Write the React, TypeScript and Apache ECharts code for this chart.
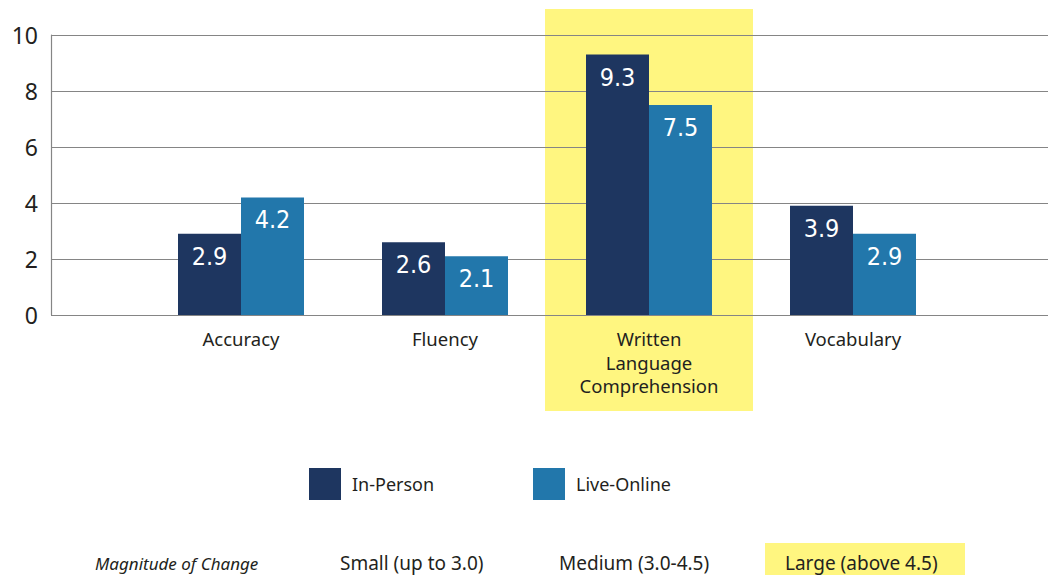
import React, { useEffect, useRef } from "react";
import * as echarts from "echarts";

const categories = ["Accuracy", "Fluency", "Written\nLanguage\nComprehension", "Vocabulary"];
const seriesNames = ["In-Person", "Live-Online"];
const inPerson = [2.9, 2.6, 9.3, 3.9];
const liveOnline = [4.2, 2.1, 7.5, 2.9];
const yMin = 0;
const yMax = 10;
const yInterval = 2;
const highlightIndex = 2;
const magnitudeTitle = "Magnitude of Change";
const magnitudeLabels = ["Small (up to 3.0)", "Medium (3.0-4.5)", "Large (above 4.5)"];

const DARK = "#1e3660";
const LIGHT = "#2277ab";
const YELLOW = "#fff680";
const GRIDC = "#858585";
const TEXT = "#231f20";
const FONT = "'Noto Sans', 'Open Sans', sans-serif";
const NARROW = "'Liberation Sans Narrow', 'DejaVu Sans Condensed', 'Roboto', sans-serif";

export default function App() {
  const ref = useRef<HTMLDivElement>(null);
  useEffect(() => {
    if (!ref.current) return;
    const chart = echarts.init(ref.current, undefined, { renderer: "svg" });
    const valueLabel = {
      show: true,
      position: "insideTop",
      distance: 10,
      color: "#ffffff",
      fontFamily: NARROW,
      fontSize: 25,
      formatter: (p: any) => Number(p.value).toFixed(1),
    };
    const legendCommon = {
      top: 468,
      padding: 0,
      icon: "rect",
      itemWidth: 32,
      itemHeight: 32,
      itemGap: 0,
      textStyle: { fontFamily: FONT, fontSize: 18, color: TEXT, padding: [0, 0, 0, 6] },
    };
    const option: any = {
      animation: false,
      grid: [
        { left: 51, right: 0, top: 35, bottom: 260 },
        { left: 139, width: 816, top: 35, bottom: 260 },
      ],
      xAxis: [
        { gridIndex: 0, type: "category", data: categories, show: false },
        {
          gridIndex: 1,
          type: "category",
          data: categories,
          axisLine: { show: false },
          axisTick: { show: false },
          axisLabel: {
            margin: 12,
            fontFamily: FONT,
            fontSize: 18.5,
            color: TEXT,
            lineHeight: 23.5,
            interval: 0,
          },
        },
      ],
      yAxis: [
        {
          gridIndex: 0,
          type: "value",
          min: yMin,
          max: yMax,
          interval: yInterval,
          axisLine: { show: true, lineStyle: { color: GRIDC, width: 1.2 } },
          axisTick: { show: false },
          splitLine: { show: true, lineStyle: { color: GRIDC, width: 1.2 } },
          axisLabel: { margin: 13, fontFamily: FONT, fontSize: 23, color: TEXT },
        },
        { gridIndex: 1, type: "value", min: yMin, max: yMax, interval: yInterval, show: false },
      ],
      legend: [
        { ...legendCommon, data: [seriesNames[0]], left: 309 },
        { ...legendCommon, data: [seriesNames[1]], left: 533 },
      ],
      series: [
        {
          name: seriesNames[0],
          type: "bar",
          xAxisIndex: 1,
          yAxisIndex: 1,
          data: inPerson,
          barWidth: 63,
          barGap: "0%",
          itemStyle: { color: DARK },
          label: valueLabel,
        },
        {
          name: seriesNames[1],
          type: "bar",
          xAxisIndex: 1,
          yAxisIndex: 1,
          data: liveOnline,
          barWidth: 63,
          barGap: "0%",
          itemStyle: { color: LIGHT },
          label: valueLabel,
        },
      ],
    };
    chart.setOption(option);
    const cx = chart.convertToPixel({ xAxisIndex: 1 } as any, categories[highlightIndex]) as number;
    const bottomY = 563;
    chart.setOption({
      graphic: [
        {
          type: "rect",
          z: -10,
          silent: true,
          shape: { x: cx - 104, y: 9, width: 208, height: 402 },
          style: { fill: YELLOW },
        },
        {
          type: "text",
          x: 95,
          y: bottomY,
          style: {
            text: magnitudeTitle,
            fontFamily: FONT,
            fontStyle: "italic",
            fontSize: 17,
            fill: TEXT,
            verticalAlign: "middle",
          },
        },
        {
          type: "text",
          x: 340,
          y: bottomY,
          style: { text: magnitudeLabels[0], fontFamily: FONT, fontSize: 19, fill: TEXT, verticalAlign: "middle" },
        },
        {
          type: "text",
          x: 559,
          y: bottomY,
          style: { text: magnitudeLabels[1], fontFamily: FONT, fontSize: 19, fill: TEXT, verticalAlign: "middle" },
        },
        {
          type: "rect",
          z: -10,
          shape: { x: 765, y: 543, width: 200, height: 32 },
          style: { fill: YELLOW },
        },
        {
          type: "text",
          x: 785,
          y: bottomY,
          style: { text: magnitudeLabels[2], fontFamily: FONT, fontSize: 19, fill: TEXT, verticalAlign: "middle" },
        },
      ],
    });
    return () => chart.dispose();
  }, []);
  return (
    <div
      ref={ref}
      style={{ position: "fixed", left: 0, top: 0, width: 1048, height: 575, background: "#ffffff" }}
    />
  );
}
